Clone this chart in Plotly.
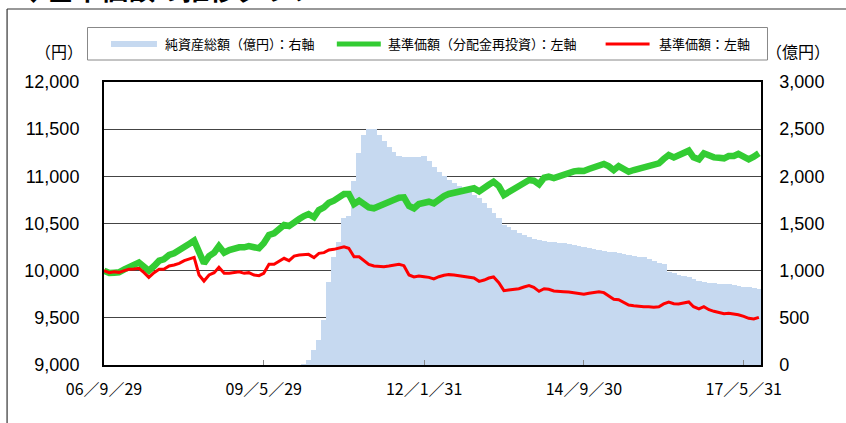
import pandas as pd
import plotly.graph_objects as go

# ---- data ----
try:
    dates = pd.date_range("2006-09-29", periods=132, freq="BME")
except Exception:
    dates = pd.date_range("2006-09-29", periods=132, freq="BM")

nav_start = 40  # net assets start (month index)
net_assets = [  # 億円
    8, 53, 159, 265, 480, 877, 1148, 1307, 1560, 1575, 1954, 2244,
    2438, 2498, 2498, 2438, 2378, 2314, 2261, 2216, 2209, 2202, 2202, 2209,
    2216, 2165, 2102, 2049, 2004, 1961, 1926, 1898, 1873, 1838, 1802, 1767,
    1714, 1661, 1608, 1555, 1484, 1460, 1431, 1403, 1378, 1354, 1332, 1325,
    1314, 1307, 1300, 1296, 1290, 1283, 1272, 1261, 1254, 1240, 1228, 1219,
    1208, 1201, 1194, 1184, 1173, 1162, 1160, 1148, 1141, 1120, 1102, 1085,
    1071, 989, 972, 954, 943, 930, 908, 894, 883, 873, 866, 862,
    862, 859, 848, 837, 830, 823, 816, 809,
]

nav_reinvest = [  # 基準価額(分配金再投資) 円
    10000, 9975, 9979, 9982, 10014, 10042, 10060, 10085, 10042, 10000, 10049, 10106,
    10120, 10166, 10184, 10212, 10248, 10283, 10318, 10184, 10078, 10155, 10191, 10261,
    10191, 10219, 10237, 10248, 10248, 10261, 10248, 10237, 10290, 10378, 10396, 10449,
    10484, 10473, 10519, 10548, 10579, 10600, 10566, 10643, 10671, 10720, 10742, 10777,
    10813, 10813, 10707, 10742, 10707, 10671, 10661, 10678, 10703, 10720, 10749, 10774,
    10777, 10685, 10661, 10707, 10720, 10731, 10714, 10756, 10791, 10813, 10826, 10844,
    10851, 10858, 10873, 10841, 10869, 10911, 10943, 10897, 10802, 10830, 10858, 10887,
    10915, 10961, 10954, 10915, 10985, 10996, 10982, 11003, 11025, 11038, 11053, 11060,
    11056, 11078, 11095, 11125, 11131, 11109, 11067, 11109, 11074, 11049, 11067, 11081,
    11095, 11102, 11109, 11138, 11184, 11226, 11201, 11219, 11251, 11272, 11201, 11180,
    11244, 11219, 11201, 11198, 11191, 11215, 11215, 11237, 11215, 11180, 11208, 11244,
]

nav_price = [  # 基準価額 円
    10000, 9979, 9989, 9982, 10000, 10014, 10018, 10025, 9979, 9929, 9979, 10014,
    10014, 10049, 10060, 10078, 10106, 10124, 10141, 9954, 9890, 9954, 9979, 10035,
    9972, 9972, 9982, 9989, 9972, 9979, 9954, 9947, 9972, 10067, 10067, 10095,
    10131, 10106, 10155, 10166, 10166, 10173, 10138, 10184, 10191, 10219, 10226, 10240,
    10254, 10237, 10148, 10148, 10102, 10067, 10049, 10042, 10042, 10049, 10060, 10067,
    10053, 9954, 9933, 9943, 9936, 9929, 9912, 9936, 9951, 9958, 9954, 9947,
    9940, 9933, 9922, 9887, 9901, 9922, 9933, 9873, 9788, 9795, 9802, 9809,
    9827, 9841, 9823, 9781, 9809, 9802, 9784, 9777, 9777, 9774, 9767, 9753,
    9749, 9760, 9765, 9777, 9767, 9731, 9696, 9693, 9664, 9636, 9629, 9622,
    9618, 9618, 9611, 9618, 9647, 9668, 9650, 9647, 9654, 9668, 9618, 9594,
    9618, 9586, 9569, 9555, 9544, 9548, 9544, 9533, 9516, 9495, 9488, 9505,
]

tick_dates = ["2006-09-29", "2009-05-29", "2012-01-31", "2014-09-30", "2017-05-31"]
tick_labels = ["06／9／29", "09／5／29", "12／1／31", "14／9／30", "17／5／31"]
left_ticks = [9000, 9500, 10000, 10500, 11000, 11500, 12000]
right_ticks = [0, 500, 1000, 1500, 2000, 2500, 3000]

legend_names = ["純資産総額（億円）：右軸", "基準価額（分配金再投資）：左軸", "基準価額：左軸"]
title_text = "◆基準価額の推移グラフ"

C_BAR = "#c6d9f0"
C_GREEN = "#33cc33"
C_RED = "#ff0000"

# ---- geometry (pixels) ----
W, H = 846, 423
L, R, T, B = 104, 761.5, 82, 365


def px(x):
    return (x - L) / (R - L)


def py(y):
    return (B - y) / (B - T)


fig = go.Figure()
fig.add_trace(go.Bar(
    x=dates[nav_start:nav_start + len(net_assets)], y=net_assets,
    marker=dict(color=C_BAR, line=dict(width=0)),
    width=35 * 86400000, yaxis="y", showlegend=False, hoverinfo="x+y",
))
fig.add_trace(go.Scatter(
    x=dates, y=nav_reinvest, mode="lines", yaxis="y2",
    line=dict(color=C_GREEN, width=6.5), showlegend=False,
))
fig.add_trace(go.Scatter(
    x=dates, y=nav_price, mode="lines", yaxis="y2",
    line=dict(color=C_RED, width=3), showlegend=False,
))

num_font = dict(family="Liberation Sans, Arial, sans-serif", size=18, color="#000")
jp = "Noto Sans CJK JP, sans-serif"

fig.update_layout(
    width=W, height=H,
    margin=dict(l=L, r=W - R, t=T, b=H - B, pad=0),
    paper_bgcolor="white", plot_bgcolor="white",
    bargap=0,
    xaxis=dict(
        type="date", range=["2006-09-29", "2017-09-13"],
        tickvals=tick_dates, ticktext=tick_labels,
        tickfont=dict(family=jp, size=16, color="#000"),
        ticks="inside", ticklen=5, tickcolor="#888", tickwidth=1,
        showgrid=False, showline=True, linecolor="#000", linewidth=1.5, mirror=True,
        zeroline=False, ticklabelstandoff=9,
    ),
    yaxis=dict(
        side="right", range=[0, 3000], tickvals=right_ticks,
        ticktext=[f"{v:,}" for v in right_ticks], tickfont=num_font,
        ticks="outside", ticklen=13, tickcolor="rgba(0,0,0,0)",
        showgrid=True, gridcolor="#444", gridwidth=1,
        showline=True, linecolor="#000", linewidth=1.5, mirror=True,
        zeroline=False,
    ),
    yaxis2=dict(
        side="left", overlaying="y", range=[9000, 12000], tickvals=left_ticks,
        ticktext=[f"{v:,}" for v in left_ticks], tickfont=num_font,
        ticks="outside", ticklen=20, tickcolor="rgba(0,0,0,0)",
        showgrid=False, showline=False, zeroline=False,
    ),
)

shapes = []
# outer frame
shapes.append(dict(type="line", xref="paper", yref="paper", x0=px(7), x1=px(W + 5), y0=py(9), y1=py(9),
                   line=dict(color="#333", width=1.2)))
shapes.append(dict(type="line", xref="paper", yref="paper", x0=px(7), x1=px(7), y0=py(9), y1=py(H + 5),
                   line=dict(color="#333", width=1.2)))
# legend box
shapes.append(dict(type="rect", xref="paper", yref="paper", x0=px(87.5), x1=px(768), y0=py(27.5), y1=py(60),
                   line=dict(color="#888", width=1), fillcolor="white"))
# legend symbols
ly = py(44)
shapes.append(dict(type="line", xref="paper", yref="paper", x0=px(111), x1=px(157), y0=ly, y1=ly,
                   line=dict(color=C_BAR, width=6)))
shapes.append(dict(type="line", xref="paper", yref="paper", x0=px(337), x1=px(381), y0=ly, y1=ly,
                   line=dict(color=C_GREEN, width=5)))
shapes.append(dict(type="line", xref="paper", yref="paper", x0=px(606), x1=px(650), y0=ly, y1=ly,
                   line=dict(color=C_RED, width=3)))
fig.update_layout(shapes=shapes)

ann = []
leg_x = [163, 386, 657]
for name, x in zip(legend_names, leg_x):
    ann.append(dict(text=name, xref="paper", yref="paper", x=px(x), y=ly, xanchor="left", yanchor="middle",
                    showarrow=False, font=dict(family=jp, size=13, color="#000")))
ann.append(dict(text="（円）", xref="paper", yref="paper", x=px(59), y=py(51), xanchor="center", yanchor="middle",
                showarrow=False, font=dict(family=jp, size=16, color="#000")))
ann.append(dict(text="（億円）", xref="paper", yref="paper", x=px(799), y=py(51), xanchor="center", yanchor="middle",
                showarrow=False, font=dict(family=jp, size=16, color="#000")))
ann.append(dict(text="<b>" + title_text + "</b>", xref="paper", yref="paper", x=px(18), y=py(-12),
                xanchor="left", yanchor="middle", showarrow=False,
                font=dict(family=jp, size=27, color="#000")))
fig.update_layout(annotations=ann)

fig.write_html(
    "out.html",
    config={"displayModeBar": False},
    post_script="document.body.style.margin='0';document.body.style.overflow='hidden';",
)
